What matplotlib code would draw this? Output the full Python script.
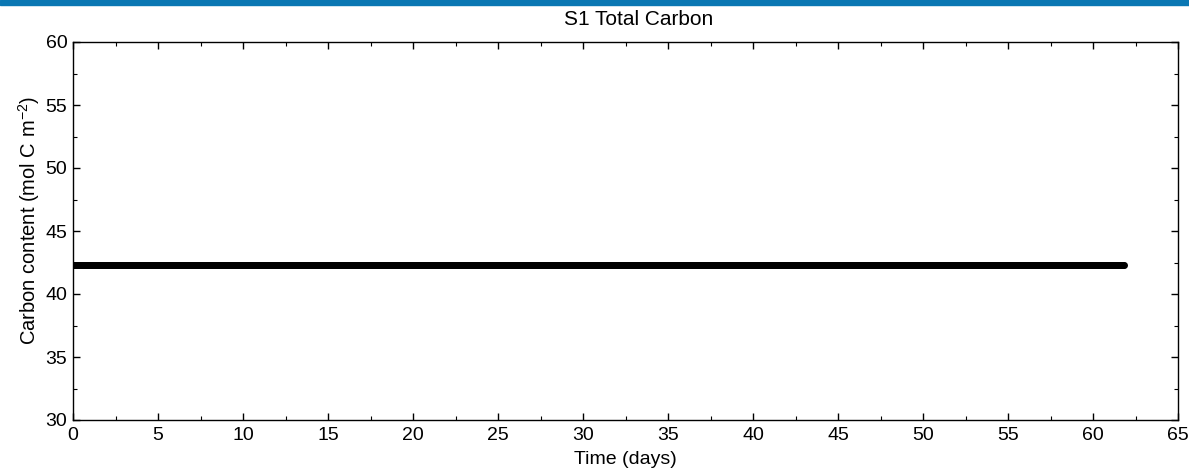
import numpy as np
import matplotlib
matplotlib.use("Agg")
import matplotlib.pyplot as plt
from matplotlib.ticker import MultipleLocator
from matplotlib.patches import Rectangle

# Data
days = np.arange(0, 61.8001, 0.05)          # model output time steps (days)
carbon_value = 42.3                          # constant total carbon (mol C m^-2)
carbon = np.full(days.shape, carbon_value)

title = "S1 Total Carbon"
xlabel = "Time (days)"
ylabel = "Carbon content (mol C m$^{\\mathregular{-2}}$)"
xticks = list(range(0, 66, 5))
yticks = list(range(30, 61, 5))

plt.rcParams['font.family'] = ['Liberation Sans', 'DejaVu Sans']
plt.rcParams['mathtext.fontset'] = 'custom'
plt.rcParams['mathtext.rm'] = 'Liberation Sans'

fig = plt.figure(figsize=(11.89, 4.72), dpi=100)
# blue banner strip at top of screenshot
fig.patches.append(Rectangle((0, 1 - 5/472), 1, 5/472, transform=fig.transFigure,
                             color='#0a77b3', zorder=0))
ax = fig.add_axes([73/1189, 1 - 420/472, (1178 - 73)/1189, (420 - 42)/472])

ax.plot(days, carbon, linestyle='none', marker='o', markersize=5,
        color='black', markeredgewidth=0)

ax.set_xlim(0, 65)
ax.set_ylim(30, 60)
ax.set_xticks(xticks)
ax.set_yticks(yticks)
ax.xaxis.set_minor_locator(MultipleLocator(2.5))
ax.yaxis.set_minor_locator(MultipleLocator(2.5))
ax.tick_params(which='both', direction='in', top=True, right=True, labelsize=14)
ax.tick_params(axis='x', which='major', pad=5)
ax.tick_params(axis='y', which='major', pad=4)
ax.tick_params(which='major', length=5, width=1)
ax.tick_params(which='minor', length=3, width=0.8)
for s in ax.spines.values():
    s.set_linewidth(1)

ax.set_title(title, fontsize=15, pad=12, x=(639 - 73) / 1105)
ax.set_xlabel(xlabel, fontsize=14, labelpad=5)
ax.set_ylabel(ylabel, fontsize=14.5)
ax.yaxis.set_label_coords((42 - 73) / 1105, (420 - 221) / 378)

fig.savefig("out.png", dpi=100)
